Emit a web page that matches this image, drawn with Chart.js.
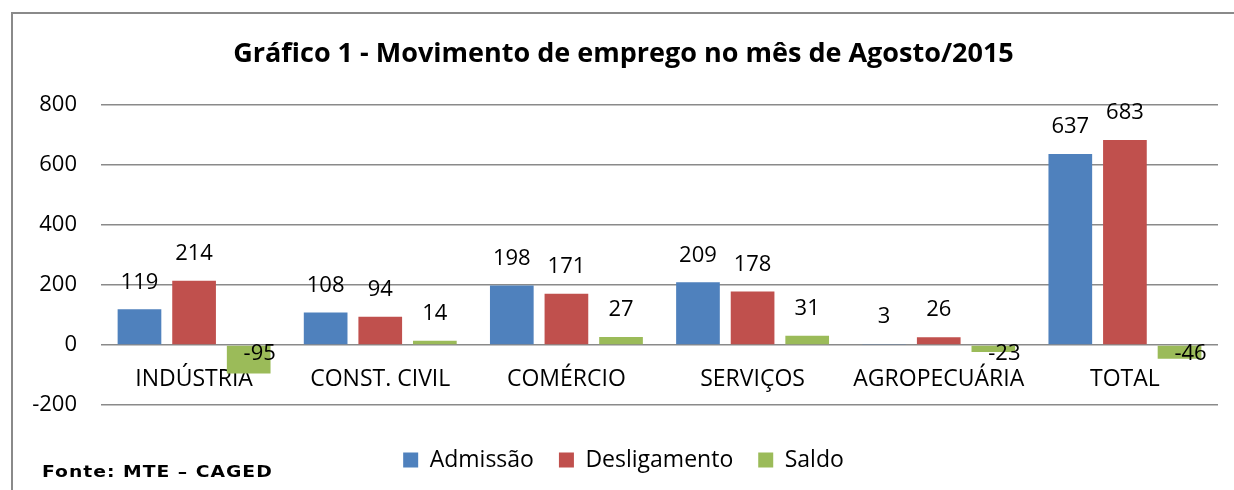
<!DOCTYPE html>
<html>
<head>
<meta charset="utf-8">
<script src="https://cdn.jsdelivr.net/npm/chart.js@4.4.0/dist/chart.umd.min.js"></script>
<style>
  html, body { margin: 0; padding: 0; background: #fff; }
  #wrap { position: relative; width: 1234px; height: 490px; overflow: hidden; }
  #frame { position: absolute; left: 11px; top: 12px; width: 1300px; height: 600px; border-top: 2px solid #8a8a8a; border-left: 2px solid #8a8a8a; box-sizing: border-box; }
  #src { position: absolute; left: 42px; top: 463px; font-family: "DejaVu Sans", sans-serif; font-weight: 900; font-size: 15px; color: #000; letter-spacing: 0.8px; transform: scaleX(1.25); transform-origin: 0 0; white-space: nowrap; }
  canvas { position: absolute; left: 0; top: 0; }
</style>
</head>
<body>
<div id="wrap">
  <div id="frame"></div>
  <canvas id="c" width="1234" height="490"></canvas>
  <div id="src">Fonte: MTE – CAGED</div>
</div>
<script>
const categories = ["INDÚSTRIA", "CONST. CIVIL", "COMÉRCIO", "SERVIÇOS", "AGROPECUÁRIA", "TOTAL"];
const admissao = [119, 108, 198, 209, 3, 637];
const desligamento = [214, 94, 171, 178, 26, 683];
const saldo = [-95, 14, 27, 31, -23, -46];
const yTicks = [800, 600, 400, 200, 0, -200];
const titleText = "Gráfico 1 - Movimento de emprego no mês de Agosto/2015";

const FONT = "'Open Sans', Lato, sans-serif";

const valueLabels = {
  id: 'valueLabels',
  afterDatasetsDraw(chart) {
    const ctx = chart.ctx;
    const zeroY = chart.scales.y.getPixelForValue(0);
    ctx.save();
    ctx.font = "22px " + FONT;
    ctx.fillStyle = "#000";
    ctx.textAlign = "center";
    ctx.textBaseline = "middle";
    chart.data.datasets.forEach((ds, i) => {
      chart.getDatasetMeta(i).data.forEach((bar, j) => {
        const v = ds.data[j];
        if (v >= 0) {
          ctx.fillText(String(v), bar.x, bar.y - 27);
        } else {
          ctx.fillText(String(v), bar.x + 11, zeroY + 9);
        }
      });
    });
    ctx.restore();
  }
};

new Chart(document.getElementById('c'), {
  type: 'bar',
  data: {
    labels: categories,
    datasets: [
      { label: 'Admissão', data: admissao, backgroundColor: '#4F81BD' },
      { label: 'Desligamento', data: desligamento, backgroundColor: '#C0504D' },
      { label: 'Saldo', data: saldo, backgroundColor: '#9BBB59' }
    ]
  },
  options: {
    responsive: false,
    animation: false,
    devicePixelRatio: 1,
    datasets: { bar: { categoryPercentage: 0.88, barPercentage: 0.8 } },
    layout: { padding: { left: 29, right: 16, top: 0, bottom: 8.5 } },
    plugins: {
      title: {
        display: true,
        text: titleText,
        font: { family: FONT, size: 27, weight: 'bold' },
        color: '#000',
        padding: { top: 38, bottom: 34.6 }
      },
      legend: {
        display: true,
        position: 'bottom',
        title: { display: true, text: '', font: { size: 10, lineHeight: 1 }, padding: { top: 0, bottom: 8.5 } },
        labels: {
          font: { family: FONT, size: 23 },
          color: '#000',
          boxWidth: 15,
          boxHeight: 15,
          padding: 25
        }
      },
      tooltip: { enabled: false }
    },
    scales: {
      x: {
        position: { y: 0 },
        grid: { display: false },
        border: { display: false },
        ticks: { font: { family: FONT, size: 23 }, color: '#000', padding: 13, maxRotation: 0, autoSkip: false }
      },
      y: {
        min: -200,
        max: 800,
        afterFit(scale) { scale.width = 72; },
        afterBuildTicks(scale) { scale.ticks = yTicks.map(v => ({ value: v })); },
        grid: { color: '#8a8a8a', lineWidth: 1.5, drawTicks: false },
        border: { display: false },
        ticks: { font: { family: FONT, size: 22 }, color: '#000', padding: 24 }
      }
    }
  },
  plugins: [valueLabels]
});
</script>
</body>
</html>
